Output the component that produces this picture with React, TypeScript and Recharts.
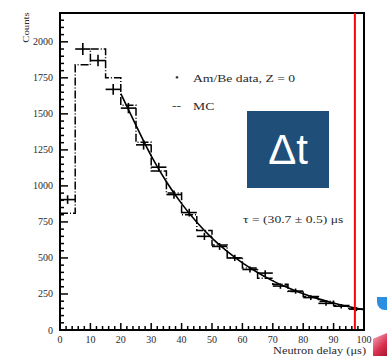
import { ComposedChart, Line, Scatter, ErrorBar, XAxis, YAxis, ReferenceLine, ReferenceArea } from "recharts";

// bins of 5 µs
const BIN_CENTERS = [2.5, 7.5, 12.5, 17.5, 22.5, 27.5, 32.5, 37.5, 42.5, 47.5, 52.5, 57.5, 62.5, 67.5, 72.5, 77.5, 82.5, 87.5, 92.5, 97.5];
const DATA_COUNTS = [905, 1950, 1870, 1670, 1540, 1285, 1130, 940, 815, 650, 580, 500, 420, 395, 305, 270, 225, 185, 165, 145];
const DATA_ERRORS = [30, 42, 40, 38, 36, 33, 31, 29, 27, 25, 24, 22, 21, 20, 19, 18, 17, 16, 15, 14];
const BIN_HALF_WIDTH = 2.5;

const MC_EDGES = [0, 5, 10, 15, 20, 25, 30, 35, 40, 45, 50, 55, 60, 65, 70, 75, 80, 85, 90, 95, 100];
const MC_COUNTS = [810, 1840, 1950, 1750, 1560, 1303, 1103, 950, 800, 690, 590, 500, 430, 360, 318, 268, 232, 200, 170, 145, 145];

const FIT_X = [20, 25, 30, 35, 40, 45, 50, 55, 60, 65, 70, 75, 80, 85, 90, 95, 100];
const FIT_Y = [1640, 1420, 1209, 1029, 877, 748, 638, 545, 466, 399, 341, 293, 251, 216, 187, 161, 140];

const X_LABELS = [0, 10, 20, 30, 40, 50, 60, 70, 80, 90, 100];
const Y_LABELS = [0, 250, 500, 750, 1000, 1250, 1500, 1750, 2000];
const X_MINOR_STEP = 2;
const Y_MINOR_STEP = 50;
const CUT_TIME = 97;

const xTicks = Array.from({ length: 100 / X_MINOR_STEP + 1 }, (_, i) => i * X_MINOR_STEP);
const yTicks = Array.from({ length: 2150 / Y_MINOR_STEP + 1 }, (_, i) => i * Y_MINOR_STEP);

const points = BIN_CENTERS.map((x, i) => ({ x, y: DATA_COUNTS[i], ey: DATA_ERRORS[i], ex: BIN_HALF_WIDTH }));
const mc = MC_EDGES.map((x, i) => ({ x, y: MC_COUNTS[i] }));
const fit = FIT_X.map((x, i) => ({ x, y: FIT_Y[i] }));

const FONT = "'Liberation Serif', 'DejaVu Serif', serif";
const TEXT = "#2a2a2a";

const Y_MARGIN = 7;
const X_MARGIN = 4;

const YTick = (props: any) => {
  const { x, y, payload } = props;
  const v = payload.value;
  const major = Y_LABELS.includes(v);
  const ax = x + Y_MARGIN;
  return (
    <g>
      <line x1={ax} x2={ax + (major ? 8 : 4)} y1={y} y2={y} stroke="#000" strokeWidth={1.5} />
      {major && (
        <text x={x} y={y} dy={3.5} textAnchor="end" fontSize={10} fontFamily={FONT} fill={TEXT}>
          {v}
        </text>
      )}
    </g>
  );
};

const XTick = (props: any) => {
  const { x, y, payload } = props;
  const v = payload.value;
  const major = X_LABELS.includes(v);
  const ay = y - X_MARGIN;
  return (
    <g>
      <line x1={x} x2={x} y1={ay} y2={ay - (major ? 7 : 4)} stroke="#000" strokeWidth={1.5} />
      {major && (
        <text x={x} y={y} dy={9} textAnchor="middle" fontSize={10} fontFamily={FONT} fill={TEXT}>
          {v}
        </text>
      )}
    </g>
  );
};

const XTitle = (props: any) => {
  const vb = props.viewBox;
  return (
    <text
      x={vb.x + vb.width + 2}
      y={vb.y + vb.height - 2}
      textAnchor="end"
      fontSize={10.5}
      fontFamily={FONT}
      fill={TEXT}
      textLength={93}
      lengthAdjust="spacingAndGlyphs"
    >
      Neutron delay (μs)
    </text>
  );
};

// text stretched sideways like the scanned figure
const label = (left: number, top: number, size: number, stretch = 1.3) => ({
  position: "absolute" as const,
  left,
  top,
  fontSize: size,
  lineHeight: 1,
  whiteSpace: "nowrap" as const,
  fontFamily: FONT,
  color: TEXT,
  transform: `scaleX(${stretch})`,
  transformOrigin: "left center",
});

export default function App() {
  return (
    <div style={{ position: "absolute", left: 0, top: 0, width: 387, height: 356, background: "#fff", overflow: "hidden" }}>
      <ComposedChart width={387} height={356} margin={{ top: 13, right: 23, left: 0, bottom: 0 }}>
        <XAxis
          type="number"
          dataKey="x"
          domain={[0, 100]}
          ticks={xTicks}
          interval={0}
          tickSize={0}
          tickMargin={X_MARGIN}
          tick={<XTick />}
          height={26}
          axisLine={{ stroke: "#000", strokeWidth: 2 }}
          label={{ content: <XTitle /> }}
          allowDataOverflow
        />
        <YAxis
          type="number"
          domain={[0, 2200]}
          ticks={yTicks}
          interval={0}
          tickSize={0}
          tickMargin={Y_MARGIN}
          tick={<YTick />}
          width={60}
          axisLine={{ stroke: "#000", strokeWidth: 2 }}
          allowDataOverflow
        />
        <ReferenceArea x1={0} x2={100} y1={0} y2={2200} fill="none" stroke="#000" strokeWidth={2} />
        <Line
          data={mc}
          dataKey="y"
          type="stepAfter"
          stroke="#000"
          strokeWidth={1.5}
          strokeDasharray="8 2 1 2"
          dot={false}
          isAnimationActive={false}
        />
        <Line
          data={fit}
          dataKey="y"
          type="monotone"
          stroke="#000"
          strokeWidth={1.6}
          dot={false}
          isAnimationActive={false}
        />
        <Scatter data={points} dataKey="y" shape={() => <g />} isAnimationActive={false}>
          <ErrorBar dataKey="ey" direction="y" width={0} stroke="#000" strokeWidth={1.6} />
          <ErrorBar dataKey="ex" direction="x" width={0} stroke="#000" strokeWidth={1.6} />
        </Scatter>
        <ReferenceLine x={CUT_TIME} stroke="#f00" strokeWidth={2} />
      </ComposedChart>

      <div
        style={{
          ...label(14, 23, 9, 1.2),
          transform: "rotate(-90deg) scaleX(1.2)",
          transformOrigin: "center center",
        }}
      >
        Counts
      </div>

      <div style={label(175, 72, 11, 1)}>•</div>
      <div style={label(193, 74, 10.5)}>Am/Be data, Z = 0</div>
      <div style={label(172, 101, 10.5)}>--</div>
      <div style={label(193, 102, 10.5)}>MC</div>

      <div
        style={{
          position: "absolute",
          left: 247,
          top: 111,
          width: 82,
          height: 77,
          background: "#1f4e79",
          color: "#fff",
          display: "flex",
          alignItems: "center",
          justifyContent: "center",
          fontFamily: "'Liberation Sans', 'DejaVu Sans', sans-serif",
          fontSize: 42,
          lineHeight: 1,
        }}
      >
        Δt
      </div>

      <div style={label(243, 215, 10.5, 1.3)}>τ = (30.7 ± 0.5) μs</div>

      <div style={{ position: "absolute", left: 377, top: 297, width: 10, height: 13, background: "#2a8fe0", borderBottomLeftRadius: 8 }} />
      <div
        style={{
          position: "absolute",
          left: 373,
          top: 333,
          width: 14,
          height: 23,
          background: "linear-gradient(135deg, #f4b6c2 0%, #d8304f 60%, #a8162f 100%)",
          clipPath: "polygon(100% 0, 100% 100%, 0 100%, 0 25%)",
        }}
      />
    </div>
  );
}
